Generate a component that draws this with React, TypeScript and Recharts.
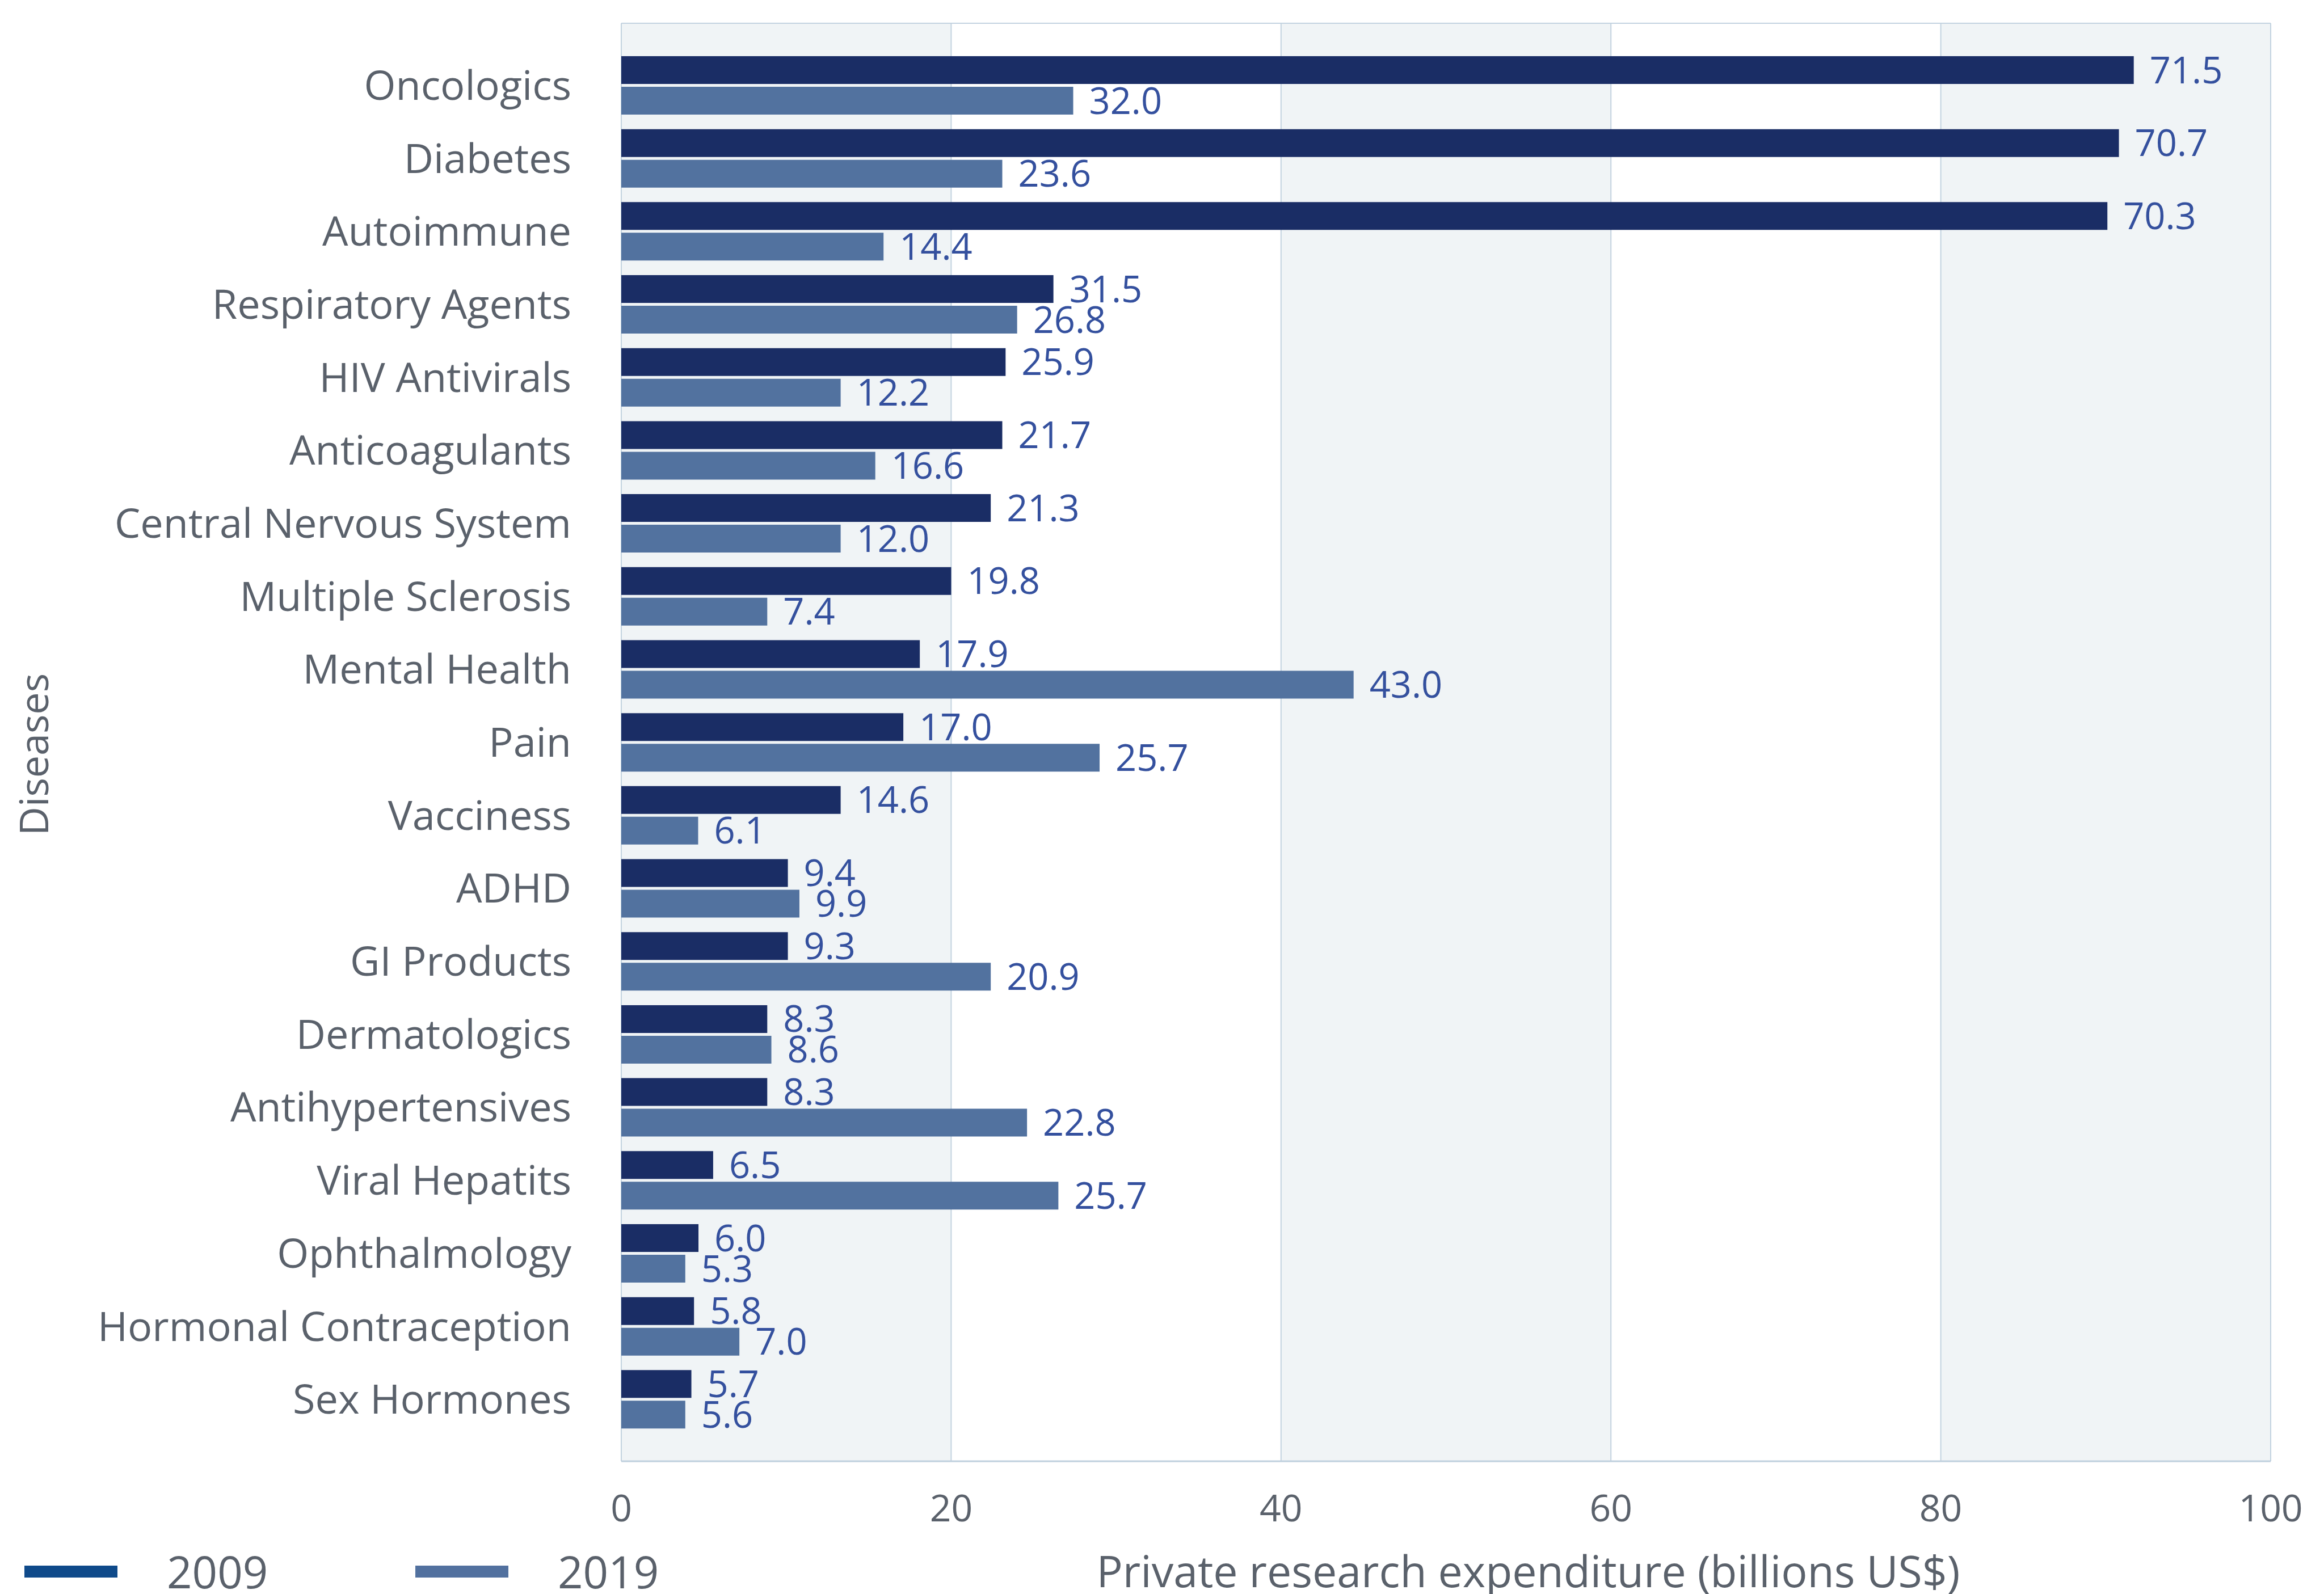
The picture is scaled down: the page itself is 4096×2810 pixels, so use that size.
import { BarChart, Bar, XAxis, YAxis, CartesianGrid, LabelList } from 'recharts';

const diseases = [
  'Oncologics', 'Diabetes', 'Autoimmune', 'Respiratory Agents', 'HIV Antivirals',
  'Anticoagulants', 'Central Nervous System', 'Multiple Sclerosis', 'Mental Health', 'Pain',
  'Vacciness', 'ADHD', 'GI Products', 'Dermatologics', 'Antihypertensives',
  'Viral Hepatits', 'Ophthalmology', 'Hormonal Contraception', 'Sex Hormones',
];

// bar lengths as drawn on the axis
const bars2009 = [91.7, 90.8, 90.1, 26.2, 23.3, 23.1, 22.4, 20.0, 18.1, 17.1, 13.3, 10.1, 10.1, 8.85, 8.85, 5.57, 4.68, 4.41, 4.25];
const bars2019 = [27.4, 23.1, 15.9, 24.0, 13.3, 15.4, 13.3, 8.85, 44.4, 29.0, 4.66, 10.8, 22.4, 9.1, 24.6, 26.5, 3.88, 7.16, 3.88];

// values printed next to the bars
const labels2009 = [71.5, 70.7, 70.3, 31.5, 25.9, 21.7, 21.3, 19.8, 17.9, 17.0, 14.6, 9.4, 9.3, 8.3, 8.3, 6.5, 6.0, 5.8, 5.7];
const labels2019 = [32.0, 23.6, 14.4, 26.8, 12.2, 16.6, 12.0, 7.4, 43.0, 25.7, 6.1, 9.9, 20.9, 8.6, 22.8, 25.7, 5.3, 7.0, 5.6];

const xTicks = [0, 20, 40, 60, 80, 100];

const series = [
  { key: 'y2009', label: 'l2009', name: '2009', color: '#1a2d65', legendColor: '#0f4a8a' },
  { key: 'y2019', label: 'l2019', name: '2019', color: '#52729f', legendColor: '#52719f' },
];

const chartData = diseases.map((name, i) => ({
  name,
  y2009: bars2009[i],
  y2019: bars2019[i],
  l2009: labels2009[i],
  l2019: labels2019[i],
}));

const FONT = '"Open Sans", sans-serif';
const TEXT = '#5a616b';

export default function App() {
  return (
    <div style={{ position: 'absolute', left: 0, top: 0, width: 4096, height: 2810, background: '#fff', fontFamily: FONT }}>
      <BarChart
        width={4096}
        height={2810}
        data={chartData}
        layout="vertical"
        margin={{ top: 41, right: 94, left: 0, bottom: 0 }}
        barSize={49}
        barGap={5}
      >
        <CartesianGrid
          stroke="#c3d3e0"
          strokeWidth={2}
          verticalFill={['#f0f4f6', '#ffffff']}
          horizontalCoordinatesGenerator={({ offset }: any) => [offset.top, offset.top + offset.height]}
        />
        <XAxis
          type="number"
          domain={[0, 100]}
          ticks={xTicks}
          height={234}
          axisLine={{ stroke: '#bfd0de', strokeWidth: 3 }}
          tickLine={false}
          tickMargin={53}
          tick={{ fill: TEXT, fontSize: 66, fontFamily: FONT }}
          label={{
            value: 'Private research expenditure (billions US$)',
            position: 'insideBottom',
            offset: 12,
            dx: 145,
            fill: TEXT,
            fontSize: 77,
            fontFamily: FONT,
          }}
        />
        <YAxis
          type="category"
          dataKey="name"
          width={1095}
          axisLine={false}
          tickLine={false}
          tickSize={0}
          tickMargin={88}
          padding={{ top: 45, bottom: 45 }}
          interval={0}
          tick={{ fill: TEXT, fontSize: 72, fontFamily: FONT }}
          label={{
            content: () => (
              <text
                x={58}
                y={1330}
                transform="rotate(-90 58 1330)"
                textAnchor="middle"
                dominantBaseline="central"
                fill={TEXT}
                fontSize={70}
                fontFamily={FONT}
              >
                Diseases
              </text>
            ),
          }}
        />
        {series.map((s) => (
          <Bar key={s.key} dataKey={s.key} name={s.name} fill={s.color} isAnimationActive={false}>
            <LabelList
              dataKey={s.label}
              position="right"
              offset={28}
              fill="#34509e"
              fontSize={65}
              fontFamily={FONT}
              formatter={(v: any) => Number(v).toFixed(1)}
            />
          </Bar>
        ))}
      </BarChart>

      <div style={{ position: 'absolute', left: 43, top: 2730, height: 80, display: 'flex', alignItems: 'center' }}>
        {series.map((s) => (
          <div key={s.key} style={{ display: 'flex', alignItems: 'center', width: 689 }}>
            <div style={{ width: 164, height: 21, background: s.legendColor }} />
            <span style={{ marginLeft: 87, fontSize: 78, color: TEXT, lineHeight: '80px' }}>{s.name}</span>
          </div>
        ))}
      </div>
    </div>
  );
}
